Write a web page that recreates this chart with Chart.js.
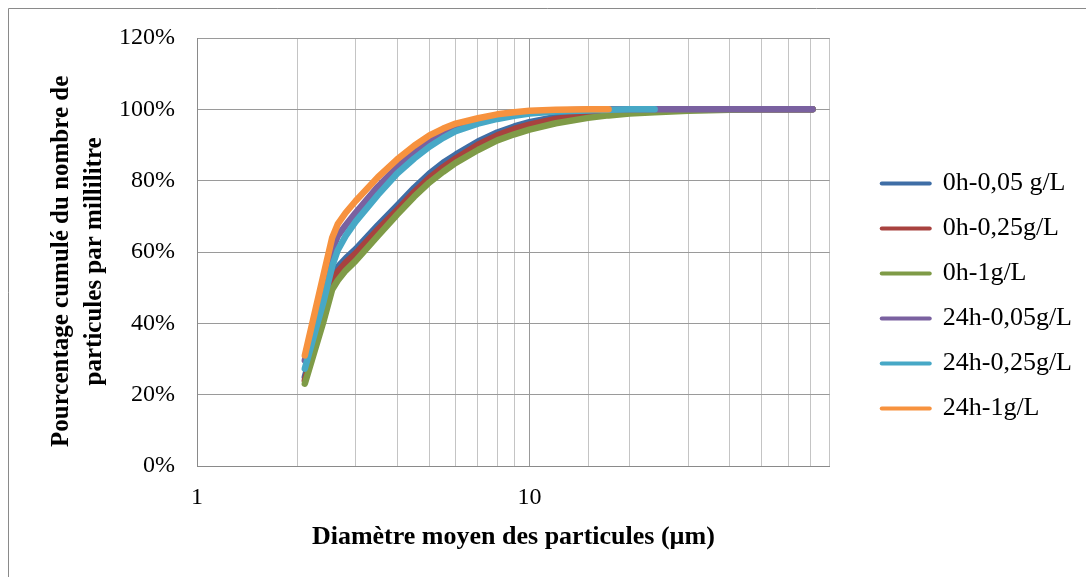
<!DOCTYPE html>
<html>
<head>
<meta charset="utf-8">
<script src="https://cdn.jsdelivr.net/npm/chart.js@4.4.1/dist/chart.umd.min.js"></script>
<style>
html,body{margin:0;padding:0;background:#fff;}
#wrap{width:1086px;height:577px;position:relative;}
</style>
</head>
<body>
<div id="wrap"><canvas id="c" width="1086" height="577"></canvas></div>
<script>
// Particle mean diameter (µm)
const sizes = [2.11, 2.4, 2.55, 2.65, 2.8, 3.0, 3.5, 4.0, 4.5, 5.0, 5.5, 6.0, 7.0, 8.0, 9.0, 10, 12, 15, 17.3, 20, 23.8, 30, 40, 50, 60, 71];
// Cumulative % of particles per millilitre
const s0h005  = [25.0, 43.5, 52.5, 55.8, 58.2, 60.8, 67.5, 73.0, 78.0, 82.0, 85.0, 87.3, 91.0, 93.5, 95.2, 96.4, 97.9, 98.9, 99.3, 99.6, 99.8, 99.9, 100, 100, 100, 100];
const s0h025  = [24.0, 42.0, 51.2, 54.5, 57.0, 59.6, 66.3, 71.8, 76.8, 80.8, 83.8, 86.2, 90.1, 92.7, 94.5, 95.7, 97.3, 98.5, 99.0, 99.4, 99.7, 99.9, 100, 100, 100, 100];
const s0h1    = [23.1, 40.5, 49.5, 52.0, 54.8, 57.5, 64.5, 70.5, 75.5, 79.5, 82.5, 85.0, 88.6, 91.3, 93.0, 94.3, 96.1, 97.6, 98.3, 98.8, 99.2, 99.6, 99.9, 100, 100, 100];
const s24h005 = [29.6, 50.0, 60.5, 64.5, 67.5, 71.0, 78.3, 83.8, 88.0, 91.2, 93.4, 95.0, 96.9, 98.0, 98.8, 99.3, 99.7, 99.9, 100, 100, 100, 100, 100, 100, 100, 100];
const s24h025 = [27.3, 46.0, 56.0, 60.5, 64.5, 68.5, 76.0, 82.0, 86.2, 89.5, 92.0, 93.9, 96.0, 97.3, 98.2, 98.8, 99.4, 99.7, 99.9, 100, 100, null, null, null, null, null];
const s24h1   = [31.0, 53.5, 64.0, 67.8, 71.0, 74.3, 81.0, 86.0, 89.8, 92.7, 94.6, 96.0, 97.5, 98.6, 99.2, 99.6, 99.9, 100, 100, null, null, null, null, null, null, null];

const seriesLabels = ['0h-0,05 g/L', '0h-0,25g/L', '0h-1g/L', '24h-0,05g/L', '24h-0,25g/L', '24h-1g/L'];
const seriesValues = [s0h005, s0h025, s0h1, s24h005, s24h025, s24h1];
const seriesColors = ['#3F6EA6', '#A8423F', '#7F9B47', '#7A61A0', '#47A8C6', '#F7923E'];

const yTicks = [0, 20, 40, 60, 80, 100, 120];
const xLabelled = [1, 10];

const FONT = "'Liberation Serif', 'Times New Roman', serif";

function pts(vals) {
  const out = [];
  sizes.forEach((x, i) => { if (vals[i] !== null && vals[i] !== undefined) out.push({x: x, y: vals[i]}); });
  return out;
}

const datasets = seriesLabels.map((lab, i) => ({
  label: lab,
  data: pts(seriesValues[i]),
  borderColor: seriesColors[i],
  backgroundColor: seriesColors[i],
  borderWidth: 6.5,
  pointRadius: 0,
  pointHoverRadius: 0,
  fill: false,
  tension: 0,
  borderCapStyle: 'round',
  borderJoinStyle: 'round',
  order: seriesLabels.length - i
}));

const framePlugin = {
  id: 'frame',
  beforeDraw(chart) {
    const ctx = chart.ctx;
    ctx.save();
    ctx.fillStyle = '#ffffff';
    ctx.fillRect(0, 0, chart.width, chart.height);
    ctx.strokeStyle = '#8a8a8a';
    ctx.lineWidth = 1;
    ctx.beginPath();
    ctx.moveTo(8.5, chart.height);
    ctx.lineTo(8.5, 8.5);
    ctx.lineTo(chart.width, 8.5);
    ctx.stroke();
    ctx.restore();
  }
};

new Chart(document.getElementById('c'), {
  type: 'line',
  data: { datasets: datasets },
  options: {
    responsive: false,
    animation: false,
    events: [],
    layout: { padding: { left: 45, top: 38, right: 4, bottom: 23 } },
    plugins: {
      tooltip: { enabled: false },
      legend: {
        position: 'right',
        align: 'center',
        maxWidth: 320,
        labels: {
          usePointStyle: true,
          pointStyle: 'line',
          pointStyleWidth: 48,
          padding: 19,
          color: '#000',
          font: { family: FONT, size: 26 },
          sort: (a, b) => a.datasetIndex - b.datasetIndex,
          generateLabels(chart) {
            const items = Chart.defaults.plugins.legend.labels.generateLabels(chart);
            items.forEach(it => { it.lineWidth = 4; it.lineCap = 'round'; it.pointStyle = 'line'; });
            return items;
          }
        }
      }
    },
    scales: {
      x: {
        type: 'logarithmic',
        position: 'bottom',
        min: 1,
        max: 80,
        afterFit(s) { s.height = 88; },
        grid: {
          display: true,
          drawTicks: false,
          lineWidth: 1,
          color(ctx) {
            const v = ctx.tick ? ctx.tick.value : null;
            return (v === 1 || v === 10) ? '#999999' : '#c4c4c4';
          }
        },
        border: { display: true, color: '#8a8a8a', width: 1 },
        ticks: {
          autoSkip: false,
          maxRotation: 0,
          padding: 17,
          color: '#000',
          font: { family: FONT, size: 24 },
          callback(value) { return xLabelled.includes(value) ? String(value) : ''; }
        },
        title: {
          display: true,
          text: 'Diamètre moyen des particules (µm)',
          color: '#000',
          font: { family: FONT, size: 26, weight: 'bold' },
          padding: { top: 0, bottom: 1 }
        }
      },
      y: {
        position: 'left',
        min: 0,
        max: 120,
        afterFit(s) { s.width = 152; },
        afterBuildTicks(s) { s.ticks = yTicks.map(v => ({ value: v })); },
        grid: { display: true, drawTicks: false, color: '#9a9a9a', lineWidth: 1 },
        border: { display: true, color: '#8a8a8a', width: 1 },
        ticks: {
          padding: 22,
          color: '#000',
          font: { family: FONT, size: 24 },
          callback(value) { return value + '%'; }
        },
        title: {
          display: true,
          text: ['Pourcentage cumulé du nombre de   ', 'particules par millilitre   '],
          color: '#000',
          font: { family: FONT, size: 25, weight: 'bold', lineHeight: 1.32 },
          padding: { top: 0, bottom: 0 }
        }
      },
      yRight: {
        position: 'right',
        display: true,
        afterFit(s) { s.width = 33; },
        grid: { display: false, drawTicks: false },
        border: { display: false },
        ticks: { display: false },
        title: { display: false }
      }
    }
  },
  plugins: [framePlugin]
});
</script>
</body>
</html>
